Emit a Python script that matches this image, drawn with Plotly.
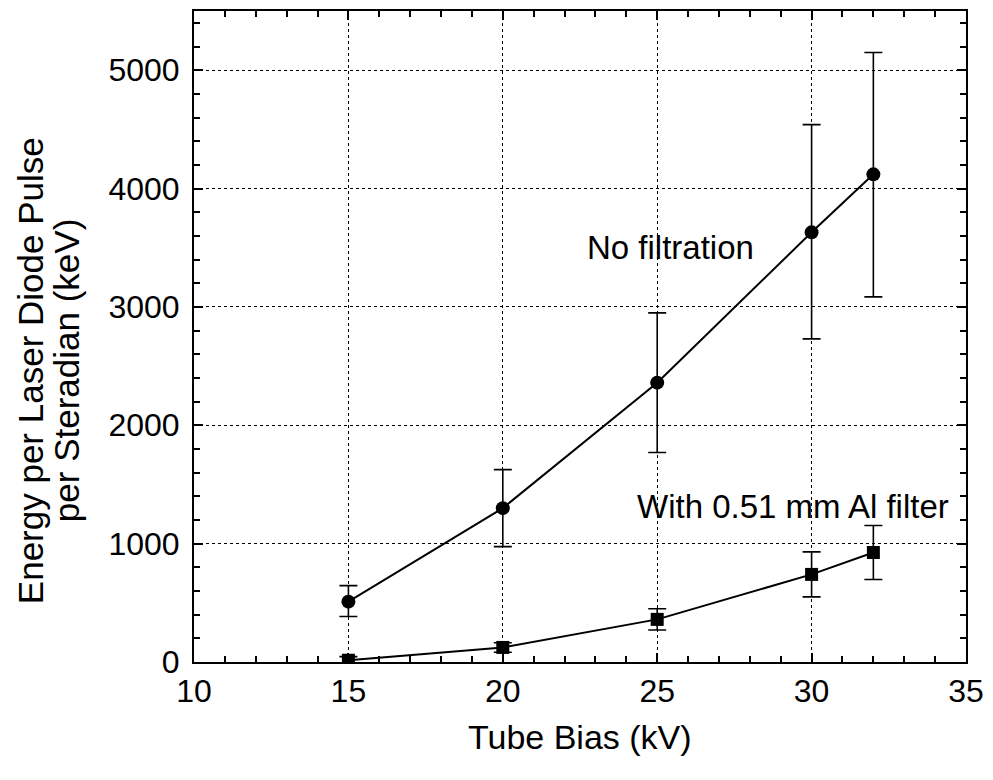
import plotly.graph_objects as go

bias_kv = [15, 20, 25, 30, 32]
no_filt = [510, 1300, 2360, 3630, 4120]
no_filt_err_plus = [135, 325, 590, 910, 1030]
no_filt_err_minus = [125, 325, 590, 900, 1035]

al_filt = [15, 123, 360, 740, 925]
al_filt_err = [30, 40, 90, 190, 228]

x_ticks = [10, 15, 20, 25, 30, 35]
y_ticks = [0, 1000, 2000, 3000, 4000, 5000]

FONT = "Liberation Sans, Arial, Helvetica, sans-serif"

fig = go.Figure()
fig.add_trace(go.Scatter(
    x=bias_kv, y=no_filt, mode="lines+markers",
    line=dict(color="black", width=2),
    marker=dict(symbol="circle", size=14, color="black"),
    error_y=dict(type="data", array=no_filt_err_plus, arrayminus=no_filt_err_minus,
                 symmetric=False, color="black", thickness=1.6, width=9),
    showlegend=False,
))
fig.add_trace(go.Scatter(
    x=bias_kv, y=al_filt, mode="lines+markers",
    line=dict(color="black", width=2),
    marker=dict(symbol="square", size=13, color="black"),
    error_y=dict(type="data", array=al_filt_err, color="black", thickness=1.6, width=9),
    showlegend=False,
))

axis_common = dict(
    showline=True, linecolor="black", linewidth=2, mirror="allticks",
    ticks="inside", ticklen=9, tickwidth=1.5, tickcolor="black",
    showgrid=True, gridcolor="black", griddash="dot", gridwidth=1.3,
    zeroline=False,
    tickfont=dict(family=FONT, size=32, color="black"),
)

fig.update_xaxes(range=[10, 35], tickvals=x_ticks, ticktext=[str(v) for v in x_ticks],
                 minor=dict(dtick=1, ticks="inside", ticklen=6, tickwidth=1.5,
                            tickcolor="black", showgrid=False),
                 ticklabelstandoff=0,
                 **axis_common)
fig.update_yaxes(range=[0, 5500], tickvals=y_ticks, ticktext=[str(v) for v in y_ticks],
                 minor=dict(dtick=200, ticks="inside", ticklen=6, tickwidth=1.5,
                            tickcolor="black", showgrid=False),
                 ticklabelstandoff=6,
                 **axis_common)

fig.add_annotation(x=25.44, y=3500, text="No filtration", showarrow=False,
                   xanchor="center", yanchor="middle",
                   font=dict(family=FONT, size=33, color="black"))
fig.add_annotation(x=29.39, y=1312, text="With 0.51 mm Al filter", showarrow=False,
                   xanchor="center", yanchor="middle",
                   font=dict(family=FONT, size=33, color="black"))

fig.add_annotation(xref="paper", yref="paper", x=-0.2122, y=0.447,
                   xanchor="center", yanchor="middle",
                   text="Energy per Laser Diode Pulse",
                   textangle=-90, showarrow=False,
                   font=dict(family=FONT, size=35, color="black"))
fig.add_annotation(xref="paper", yref="paper", x=-0.1656, y=0.447,
                   xanchor="center", yanchor="middle",
                   text="per Steradian (keV)",
                   textangle=-90, showarrow=False,
                   font=dict(family=FONT, size=35, color="black"))
fig.add_annotation(xref="paper", yref="paper", x=0.5, y=-0.115,
                   xanchor="center", yanchor="middle",
                   text="Tube Bias (kV)", showarrow=False,
                   font=dict(family=FONT, size=34, color="black"))

fig.update_layout(
    width=993, height=780,
    margin=dict(l=194, r=26, t=9, b=118),
    plot_bgcolor="white", paper_bgcolor="white",
)

fig.write_html("out.html", config={"displayModeBar": False},
               post_script="document.body.style.margin='0px';document.body.style.overflow='hidden';")
